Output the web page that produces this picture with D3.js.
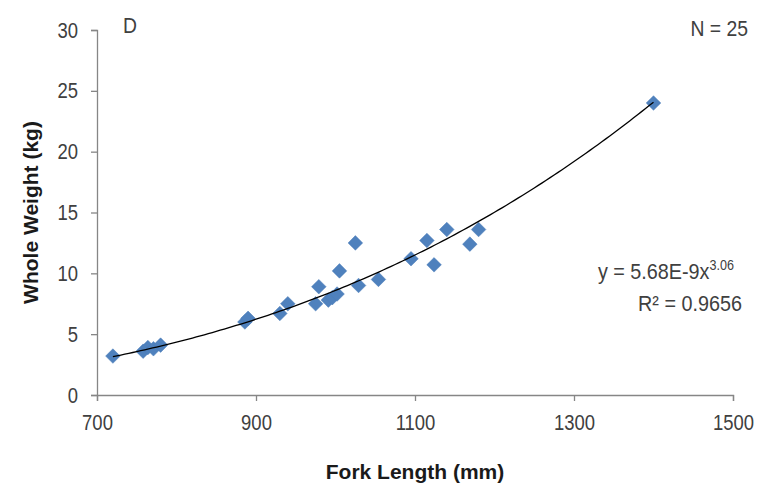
<!DOCTYPE html>
<html>
<head>
<meta charset="utf-8">
<script src="https://cdn.jsdelivr.net/npm/d3@7"></script>
<style>
  html, body { margin: 0; padding: 0; background: #fff; }
  svg { display: block; }
  text { font-family: "Liberation Sans", Arial, sans-serif; }
</style>
</head>
<body>
<svg id="chart" width="762" height="492"></svg>
<script>
// ---- data ----
const forkLength = [720, 758, 764, 771, 780, 886, 890, 930, 940, 975, 979, 991, 996, 1002, 1005, 1025, 1029, 1054, 1095, 1115, 1124, 1140, 1169, 1180, 1400];
const wholeWeight = [3.2, 3.6, 3.9, 3.8, 4.1, 6.0, 6.3, 6.7, 7.5, 7.5, 8.9, 7.8, 8.0, 8.3, 10.2, 12.5, 9.0, 9.5, 11.2, 12.7, 10.7, 13.6, 12.4, 13.6, 24.0];
const xTicks = [700, 900, 1100, 1300, 1500];
const yTicks = [0, 5, 10, 15, 20, 25, 30];
const fitA = 5.68e-9;
const fitB = 3.06;
const panelLabel = "D";
const nLabel = "N = 25";
const rSquared = "R² = 0.9656";

const svg = d3.select("#chart");
const mLeft = 97, mRight = 733, mTop = 30, mBottom = 395;

const x = d3.scaleLinear().domain([700, 1500]).range([mLeft, mRight]);
const y = d3.scaleLinear().domain([0, 30]).range([mBottom, mTop]);

const axisColor = "#868686";
const textColor = "#404040";
const sq = 0.84; // horizontal squeeze of the tick labels
const tickLen = 6, pad = 13;

// x axis
const gx = svg.append("g").attr("transform", `translate(0,${mBottom})`)
  .call(d3.axisBottom(x).tickValues(xTicks).tickSize(tickLen).tickPadding(pad).tickFormat(d3.format("d")));
// y axis
const gy = svg.append("g").attr("transform", `translate(${mLeft},0)`)
  .call(d3.axisLeft(y).tickValues(yTicks).tickSize(tickLen).tickPadding(pad).tickFormat(d3.format("d")));

[gx, gy].forEach(g => {
  g.select(".domain").attr("stroke", axisColor).attr("stroke-width", 1.3);
  g.selectAll(".tick line").attr("stroke", axisColor).attr("stroke-width", 1.3);
  g.selectAll(".tick text").attr("fill", textColor)
    .style("font-size", "22px").style("font-family", "'Liberation Sans', Arial, sans-serif")
    .attr("transform", `scale(${sq},1)`);
});
gy.selectAll(".tick text").attr("x", -(tickLen + pad) / sq);

// points (diamonds)
const s = 7.3;
svg.append("g").selectAll("path").data(forkLength).join("path")
  .attr("transform", (d, i) => `translate(${x(d)},${y(wholeWeight[i])})`)
  .attr("d", `M0,${-s}L${s},0L0,${s}L${-s},0Z`)
  .attr("fill", "#4F81BD").attr("stroke", "#4A7CB8").attr("stroke-width", 0.5);

// trend line (on top of the points)
const curveX = d3.range(d3.min(forkLength), d3.max(forkLength) + 1, 5);
const line = d3.line().x(d => x(d)).y(d => y(fitA * Math.pow(d, fitB)));
svg.append("path").datum(curveX).attr("d", line)
  .attr("fill", "none").attr("stroke", "#000").attr("stroke-width", 1.3);

// squeezed text helper
function label(px, py, sx, anchor, size, txt) {
  const g = svg.append("g").attr("transform", `translate(${px},${py}) scale(${sx},1)`);
  return g.append("text").attr("text-anchor", anchor).attr("fill", textColor)
    .style("font-size", size + "px").text(txt);
}

label(123, 33, 0.88, "start", 22, panelLabel);
label(748, 36, 0.88, "end", 22, nLabel);

const eq = label(734, 279, 0.9, "end", 22, null);
eq.append("tspan").text("y = 5.68E-9x");
eq.append("tspan").attr("dy", -9).style("font-size", "14px").text(fitB.toFixed(2));

label(742, 311, 0.9, "end", 22, rSquared);

// axis titles
svg.append("text").attr("x", (mLeft + mRight) / 2).attr("y", 479).attr("text-anchor", "middle")
  .attr("fill", "#1a1a1a").style("font-size", "21px").style("font-weight", "bold").text("Fork Length (mm)");
svg.append("text").attr("transform", `translate(38,${(mTop + mBottom) / 2}) rotate(-90)`)
  .attr("text-anchor", "middle").attr("fill", "#1a1a1a")
  .style("font-size", "21px").style("font-weight", "bold").text("Whole Weight (kg)");
</script>
</body>
</html>
